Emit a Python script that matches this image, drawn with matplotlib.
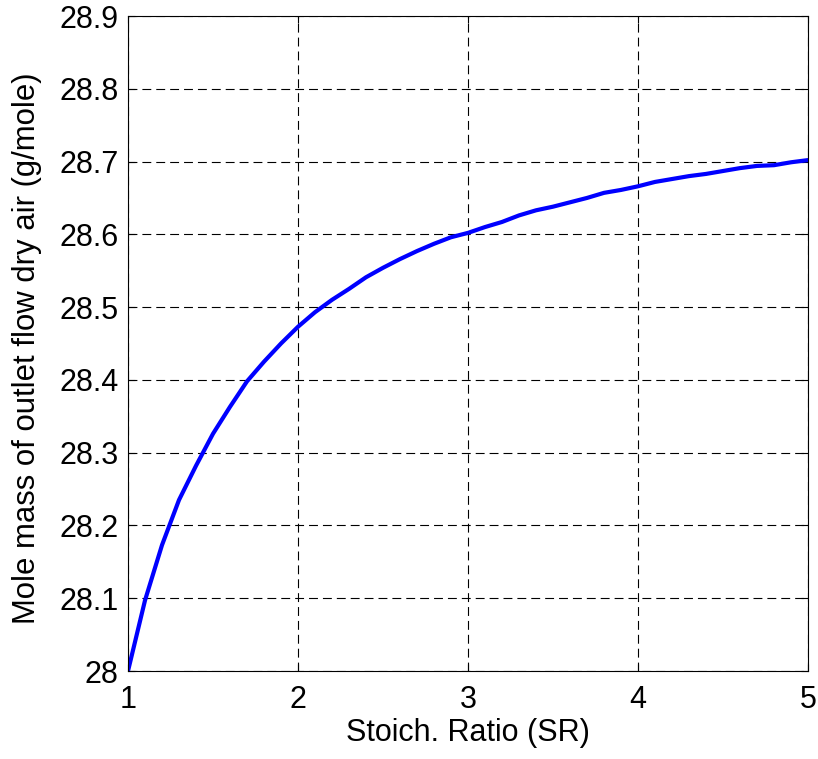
import matplotlib
matplotlib.use("Agg")
import matplotlib.pyplot as plt

# Stoich. ratio and mole mass of outlet dry air
sr = [1.0, 1.1, 1.2, 1.3, 1.4, 1.5, 1.6, 1.7, 1.8, 1.9,
      2.0, 2.1, 2.2, 2.3, 2.4, 2.5, 2.6, 2.7, 2.8, 2.9,
      3.0, 3.1, 3.2, 3.3, 3.4, 3.5, 3.6, 3.7, 3.8, 3.9,
      4.0, 4.1, 4.2, 4.3, 4.4, 4.5, 4.6, 4.7, 4.8, 4.9, 5.0]
mole_mass = [28.000, 28.097, 28.173, 28.235, 28.282, 28.326, 28.363, 28.398, 28.425, 28.450,
             28.473, 28.493, 28.510, 28.525, 28.541, 28.554, 28.566, 28.577, 28.587, 28.596,
             28.602, 28.610, 28.617, 28.626, 28.633, 28.638, 28.644, 28.650, 28.657, 28.661,
             28.666, 28.672, 28.676, 28.680, 28.683, 28.687, 28.691, 28.694, 28.695, 28.699, 28.702]

x_ticks = [1, 2, 3, 4, 5]
y_ticks = [28.0, 28.1, 28.2, 28.3, 28.4, 28.5, 28.6, 28.7, 28.8, 28.9]
y_labels = ["28", "28.1", "28.2", "28.3", "28.4", "28.5", "28.6", "28.7", "28.8", "28.9"]

plt.rcParams["font.family"] = ["Liberation Sans", "DejaVu Sans"]

fig = plt.figure(figsize=(8.18, 7.59), dpi=100)
ax = fig.add_axes([128 / 818, 88 / 759, 680 / 818, 655 / 759])

ax.plot(sr, mole_mass, color="#0000ff", linewidth=3)

ax.set_xlim(1, 5)
ax.set_ylim(28, 28.9)
ax.set_xticks(x_ticks)
ax.set_yticks(y_ticks)
ax.set_yticklabels(y_labels)
ax.tick_params(direction="in", top=True, right=True, labelsize=22, length=5, width=0.8)
ax.tick_params(axis="x", pad=10)
ax.tick_params(axis="y", pad=7)
ax.grid(True, color="black", linestyle=(0, (8, 4.5)), linewidth=0.8)

ax.set_xlabel("Stoich. Ratio (SR)", fontsize=22, labelpad=2)
ax.set_ylabel("Mole mass of outlet flow dry air (g/mole)", fontsize=22.4, labelpad=12)
ax.yaxis.label.set_y(0.492)

for s in ax.spines.values():
    s.set_linewidth(0.8)

fig.savefig("out.png", dpi=100)
